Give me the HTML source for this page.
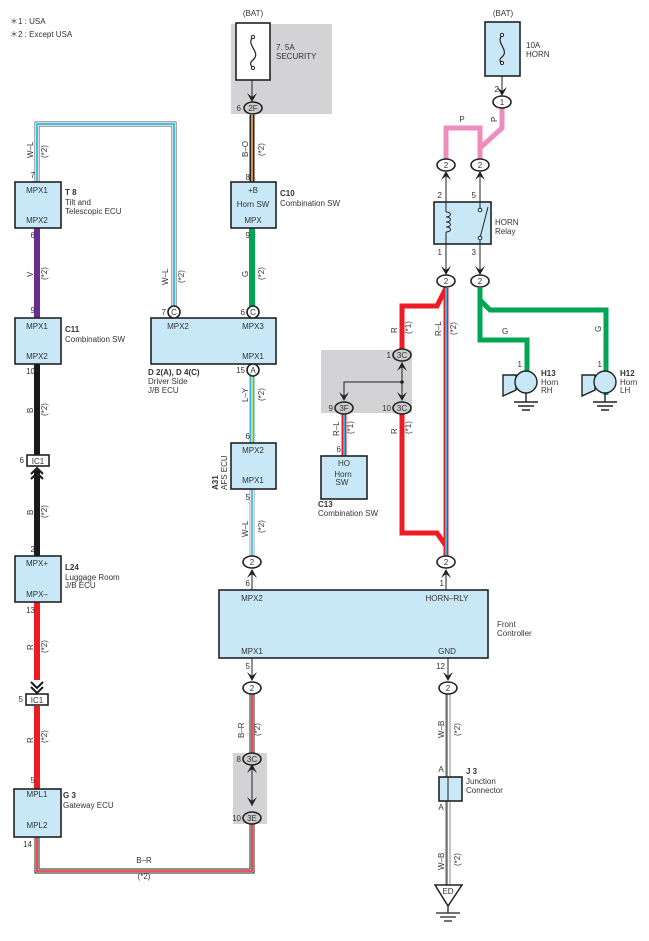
<!DOCTYPE html>
<html><head><meta charset="utf-8"><style>
html,body{margin:0;padding:0;background:#fff}
svg text{font-family:"Liberation Sans",sans-serif;font-size:8px;fill:#333}
.b{font-weight:bold}
</style></head><body>
<svg width="649" height="936" viewBox="0 0 649 936" xmlns="http://www.w3.org/2000/svg">
<defs>
<g id="ad"><polygon points="-5,-9 0,-5 5,-9 0,0" fill="#222"/></g>
<g id="au"><polygon points="-5,9 0,5 5,9 0,0" fill="#222"/></g>
</defs>
<text x="10" y="24">＊1 : USA</text>
<text x="10" y="37">＊2 : Except USA</text>

<rect x="231" y="24" width="101" height="90" fill="#d3d3d5"/>
<rect x="321" y="350" width="91" height="63" fill="#d3d3d5"/>
<rect x="233" y="753" width="34" height="71" fill="#d3d3d5"/>

<path d="M37,182 V124 H174 V306" fill="none" stroke="#555" stroke-width="5"/>
<path d="M37,182 V124 H174 V306" fill="none" stroke="#fff" stroke-width="3.6"/>
<path d="M37,182 V124 H174 V306" fill="none" stroke="#29b6e8" stroke-width="1.8"/>
<line x1="252" y1="115" x2="252" y2="182" stroke="#222" stroke-width="5"/>
<line x1="252" y1="115" x2="252" y2="182" stroke="#f5a040" stroke-width="1.8"/>
<line x1="252" y1="68" x2="252" y2="98" stroke="#222" stroke-width="1"/>
<use href="#ad" x="252" y="102"/>
<line x1="252" y1="228" x2="252" y2="306" stroke="#00a651" stroke-width="6"/>
<line x1="37" y1="228" x2="37" y2="318" stroke="#6a2c91" stroke-width="6"/>
<line x1="37" y1="364" x2="37" y2="455" stroke="#1a1a1a" stroke-width="6"/>
<line x1="37" y1="470" x2="37" y2="556" stroke="#1a1a1a" stroke-width="6"/>
<path d="M31,474 L37,468 L43,474 M31,479 L37,473 L43,479" fill="none" stroke="#1a1a1a" stroke-width="2"/>
<line x1="37" y1="602" x2="37" y2="680" stroke="#ed1c24" stroke-width="6"/>
<line x1="37" y1="706" x2="37" y2="789" stroke="#ed1c24" stroke-width="6"/>
<path d="M31,682 L37,688 L43,682 M31,687 L37,693 L43,687" fill="none" stroke="#1a1a1a" stroke-width="2"/>
<path d="M37,837 V871 H252 V818" fill="none" stroke="#222" stroke-width="5"/>
<path d="M37,837 V871 H252 V818" fill="none" stroke="#fff" stroke-width="3"/>
<path d="M37,837 V871 H252 V818" fill="none" stroke="#ed1c24" stroke-width="1.6"/>
<line x1="252" y1="694" x2="252" y2="753" stroke="#222" stroke-width="5"/>
<line x1="252" y1="694" x2="252" y2="753" stroke="#fff" stroke-width="3"/>
<line x1="252" y1="694" x2="252" y2="753" stroke="#ed1c24" stroke-width="1.6"/>
<line x1="252" y1="764" x2="252" y2="806" stroke="#222" stroke-width="1"/>
<use href="#au" x="252" y="764"/><use href="#ad" x="252" y="806"/>
<line x1="252" y1="376" x2="252" y2="443" stroke="#29b6e8" stroke-width="5"/>
<line x1="252" y1="376" x2="252" y2="443" stroke="#fde34a" stroke-width="1.6"/>
<line x1="252" y1="489" x2="252" y2="556" stroke="#999" stroke-width="5"/>
<line x1="252" y1="489" x2="252" y2="556" stroke="#fff" stroke-width="3.4"/>
<line x1="252" y1="489" x2="252" y2="556" stroke="#29b6e8" stroke-width="1.6"/>
<line x1="252" y1="570" x2="252" y2="590" stroke="#222" stroke-width="1"/>
<use href="#au" x="252" y="569"/>
<line x1="252" y1="658" x2="252" y2="680" stroke="#222" stroke-width="1"/>
<use href="#ad" x="252" y="681"/>
<line x1="502" y1="64" x2="502" y2="92" stroke="#222" stroke-width="1"/>
<use href="#ad" x="502" y="96"/>
<path d="M502,108 V128 L480,148 V160" fill="none" stroke="#f08cbc" stroke-width="5"/>
<path d="M480,148 V128 H446 V160" fill="none" stroke="#f08cbc" stroke-width="5"/>
<line x1="446" y1="172" x2="446" y2="274" stroke="#222" stroke-width="1"/>
<line x1="480" y1="172" x2="480" y2="274" stroke="#222" stroke-width="1"/>
<use href="#au" x="446" y="171"/><use href="#au" x="480" y="171"/>
<use href="#ad" x="446" y="275"/><use href="#ad" x="480" y="275"/>
<path d="M480,288 V300 L490,310 H606 V395" fill="none" stroke="#00a651" stroke-width="5"/>
<path d="M480,300 V340 H527 V378" fill="none" stroke="#00a651" stroke-width="5"/>
<path d="M446,288 L437,306 H402 V349" fill="none" stroke="#ed1c24" stroke-width="5"/>
<path d="M402,414 V533 H437 L446,546" fill="none" stroke="#ed1c24" stroke-width="5"/>
<line x1="446" y1="288" x2="446" y2="556" stroke="#ed1c24" stroke-width="5"/>
<line x1="446" y1="288" x2="446" y2="556" stroke="#29b6e8" stroke-width="2"/>
<line x1="446" y1="570" x2="446" y2="590" stroke="#222" stroke-width="1"/>
<use href="#au" x="446" y="569"/>
<line x1="402" y1="362" x2="402" y2="400" stroke="#222" stroke-width="1"/>
<path d="M402,382 H344 V400" fill="none" stroke="#222" stroke-width="1"/>
<circle cx="402" cy="382" r="1.8" fill="#222"/>
<use href="#au" x="402" y="362"/><use href="#ad" x="402" y="401"/><use href="#ad" x="344" y="401"/>
<line x1="344" y1="414" x2="344" y2="456" stroke="#ed1c24" stroke-width="5"/>
<line x1="344" y1="414" x2="344" y2="456" stroke="#29b6e8" stroke-width="2"/>
<line x1="448" y1="658" x2="448" y2="680" stroke="#222" stroke-width="1"/>
<use href="#ad" x="448" y="681"/>
<line x1="448" y1="694" x2="448" y2="895" stroke="#666" stroke-width="5"/>
<line x1="448" y1="694" x2="448" y2="895" stroke="#fff" stroke-width="3.4"/>
<line x1="450" y1="694" x2="450" y2="895" stroke="#aaa" stroke-width="1.4"/>
<line x1="447" y1="694" x2="447" y2="895" stroke="#333" stroke-width="1"/>

<g fill="#c8e8f8" stroke="#222" stroke-width="1.6">
<rect x="236" y="23" width="34" height="57" fill="#fff"/>
<rect x="485" y="22" width="35" height="54"/>
<rect x="15" y="182" width="46" height="46"/>
<rect x="231" y="182" width="45" height="46"/>
<rect x="15" y="318" width="46" height="46"/>
<rect x="151" y="318" width="125" height="46"/>
<rect x="231" y="443" width="45" height="46"/>
<rect x="15" y="556" width="46" height="46"/>
<rect x="14" y="789" width="47" height="48"/>
<rect x="219" y="590" width="269" height="68"/>
<rect x="434" y="202" width="57" height="42"/>
<rect x="321" y="456" width="46" height="43"/>
<rect x="439" y="777" width="23" height="24"/>
</g>
<line x1="448" y1="777" x2="448" y2="801" stroke="#222" stroke-width="1"/>
<path d="M253,37 C245,45 262,52 253,60 C248,64 252,66 253,68" fill="none" stroke="#222" stroke-width="1.2"/>
<circle cx="253" cy="37" r="1.6" fill="#fff" stroke="#222"/><circle cx="253" cy="68" r="1.6" fill="#fff" stroke="#222"/>
<path d="M502,35 C495,43 510,50 502,57 C498,60 501,62 502,63" fill="none" stroke="#222" stroke-width="1.2"/>
<circle cx="502" cy="35" r="1.6" fill="#fff" stroke="#222"/><circle cx="502" cy="63" r="1.6" fill="#fff" stroke="#222"/>
<path d="M446,202 V212 M446,232 V244" stroke="#222" stroke-width="1"/>
<path d="M446,212 c6,0 6,5 0,5 c6,0 6,5 0,5 c6,0 6,5 0,5 c6,0 6,5 0,5" fill="none" stroke="#222" stroke-width="1"/>
<path d="M480,202 V210 M480,238 V244 M480,238 L488,207" stroke="#222" stroke-width="1"/>
<circle cx="480" cy="210" r="1.8" fill="#fff" stroke="#222"/><circle cx="480" cy="238" r="1.8" fill="#fff" stroke="#222"/>

<g stroke="#222" stroke-width="1.4">
<polygon points="503,375 516,375 516,390 503,396" fill="#c8e8f8"/>
<circle cx="526" cy="382" r="11" fill="#c8e8f8"/>
<polygon points="582,375 595,375 595,390 582,396" fill="#c8e8f8"/>
<circle cx="605" cy="382" r="11" fill="#c8e8f8"/>
<path d="M526,393 V402 M514,402 H538 M518,406 H534 M522,410 H530 M605,393 V402 M593,402 H617 M597,406 H613 M601,410 H609" fill="none"/>
</g>
<polygon points="435,885 462,885 448,906" fill="#fff" stroke="#222" stroke-width="1.5"/>
<path d="M448,906 V913 M436,913 H460 M440,917 H456 M444,921 H452" stroke="#222" stroke-width="1.3" fill="none"/>
<text x="448" y="894" text-anchor="middle">ED</text>

<g stroke="#222" stroke-width="1.6" fill="#fff">
<ellipse cx="253" cy="108" rx="9" ry="6" fill="#ccc"/>
<ellipse cx="502" cy="102" rx="9" ry="6"/>
<ellipse cx="446" cy="165" rx="9" ry="6"/>
<ellipse cx="480" cy="165" rx="9" ry="6"/>
<ellipse cx="446" cy="281" rx="9" ry="6"/>
<ellipse cx="480" cy="281" rx="9" ry="6"/>
<ellipse cx="402" cy="355" rx="9" ry="6" fill="#ccc"/>
<ellipse cx="344" cy="408" rx="9" ry="6" fill="#ccc"/>
<ellipse cx="402" cy="408" rx="9" ry="6" fill="#ccc"/>
<ellipse cx="446" cy="562" rx="9" ry="6"/>
<ellipse cx="252" cy="562" rx="9" ry="6"/>
<ellipse cx="252" cy="688" rx="9" ry="6"/>
<ellipse cx="448" cy="688" rx="9" ry="6"/>
<ellipse cx="252" cy="759" rx="9" ry="6" fill="#ccc"/>
<ellipse cx="252" cy="818" rx="9" ry="6" fill="#ccc"/>
<circle cx="174" cy="312" r="6"/>
<circle cx="253" cy="312" r="6"/>
<circle cx="253" cy="370" r="6"/>
<rect x="27" y="455" width="22" height="11"/>
<rect x="26" y="694" width="22" height="11"/>
</g>
<g text-anchor="middle">
<text x="253" y="111">2F</text><text x="502" y="105">1</text>
<text x="446" y="168">2</text><text x="480" y="168">2</text>
<text x="446" y="284">2</text><text x="480" y="284">2</text>
<text x="402" y="358">3C</text><text x="344" y="411">3F</text><text x="402" y="411">3C</text>
<text x="446" y="565">2</text><text x="252" y="565">2</text>
<text x="252" y="691">2</text><text x="448" y="691">2</text>
<text x="252" y="762">3C</text><text x="252" y="821">3E</text>
<text x="174" y="315">C</text><text x="253" y="315">C</text><text x="253" y="373">A</text>
<text x="38" y="464">IC1</text><text x="37" y="703">IC1</text>
<text x="253" y="16">(BAT)</text><text x="503" y="16">(BAT)</text>
<text x="37" y="193">MPX1</text><text x="37" y="223">MPX2</text>
<text x="253" y="193">+B</text><text x="253" y="207">Horn SW</text><text x="253" y="223">MPX</text>
<text x="37" y="329">MPX1</text><text x="37" y="359">MPX2</text>
<text x="178" y="329">MPX2</text><text x="253" y="329">MPX3</text><text x="253" y="359">MPX1</text>
<text x="253" y="453">MPX2</text><text x="253" y="483">MPX1</text>
<text x="37" y="566">MPX+</text><text x="37" y="597">MPX–</text>
<text x="37" y="797">MPL1</text><text x="37" y="828">MPL2</text>
<text x="252" y="601">MPX2</text><text x="447" y="601">HORN–RLY</text>
<text x="252" y="654">MPX1</text><text x="447" y="654">GND</text>
<text x="344" y="466">HO</text><text x="343" y="477">Horn</text><text x="342" y="485">SW</text>
</g>
<text x="276" y="50">7. 5A</text><text x="276" y="59">SECURITY</text>
<text x="526" y="48">10A</text><text x="526" y="57">HORN</text>
<text x="65" y="195" class="b">T 8</text><text x="65" y="205">Tilt and</text><text x="65" y="214">Telescopic ECU</text>
<text x="280" y="196" class="b">C10</text><text x="280" y="206">Combination SW</text>
<text x="65" y="332" class="b">C11</text><text x="65" y="342">Combination SW</text>
<text x="148" y="375" class="b">D 2(A), D 4(C)</text><text x="148" y="384">Driver Side</text><text x="148" y="393">J/B ECU</text>
<text x="65" y="570" class="b">L24</text><text x="65" y="580">Luggage Room</text><text x="65" y="588">J/B ECU</text>
<text x="63" y="798" class="b">G 3</text><text x="63" y="808">Gateway ECU</text>
<text x="495" y="225">HORN</text><text x="495" y="234">Relay</text>
<text x="541" y="376" class="b">H13</text><text x="541" y="385">Horn</text><text x="541" y="393">RH</text>
<text x="620" y="376" class="b">H12</text><text x="620" y="385">Horn</text><text x="620" y="393">LH</text>
<text x="318" y="507" class="b">C13</text><text x="318" y="516">Combination SW</text>
<text x="497" y="627">Front</text><text x="497" y="636">Controller</text>
<text x="466" y="774" class="b">J 3</text><text x="466" y="784">Junction</text><text x="466" y="793">Connector</text>
<text x="441" y="772" text-anchor="middle">A</text><text x="441" y="810" text-anchor="middle">A</text>
<text x="144" y="863" text-anchor="middle">B–R</text><text x="144" y="879" text-anchor="middle">(*2)</text>
<text x="462" y="122" text-anchor="middle">P</text>
<text x="502" y="334">G</text>
<text transform="translate(218,490) rotate(-90)" class="b">A31</text>
<text transform="translate(227,490) rotate(-90)">AFS ECU</text>
<g text-anchor="end">
<text x="241" y="111">6</text><text x="250" y="180">8</text><text x="250" y="238">9</text>
<text x="35" y="178">7</text><text x="35" y="238">6</text><text x="35" y="313">9</text>
<text x="35" y="374">10</text><text x="24" y="463">6</text><text x="35" y="552">2</text>
<text x="35" y="613">13</text><text x="23" y="702">5</text><text x="35" y="783">5</text><text x="32" y="847">14</text>
<text x="166" y="315">7</text><text x="245" y="315">6</text><text x="245" y="373">15</text>
<text x="250" y="439">6</text><text x="250" y="500">5</text><text x="250" y="586">6</text><text x="250" y="669">5</text>
<text x="241" y="762">8</text><text x="241" y="821">10</text>
<text x="444" y="586">1</text><text x="445" y="669">12</text>
<text x="499" y="92">2</text>
<text x="442" y="198">2</text><text x="476" y="198">5</text><text x="442" y="255">1</text><text x="476" y="255">3</text>
<text x="391" y="358">1</text><text x="333" y="411">9</text><text x="391" y="411">10</text>
<text x="341" y="452">6</text><text x="522" y="367">1</text><text x="602" y="367">1</text>
</g>
<g>
<text transform="translate(33,158) rotate(-90)">W–L</text><text transform="translate(47,158) rotate(-90)">(*2)</text>
<text transform="translate(33,277) rotate(-90)">V</text><text transform="translate(47,280) rotate(-90)">(*2)</text>
<text transform="translate(168,285) rotate(-90)">W–L</text><text transform="translate(184,283) rotate(-90)">(*2)</text>
<text transform="translate(248,157) rotate(-90)">B–O</text><text transform="translate(264,156) rotate(-90)">(*2)</text>
<text transform="translate(248,277) rotate(-90)">G</text><text transform="translate(264,280) rotate(-90)">(*2)</text>
<text transform="translate(33,413) rotate(-90)">B</text><text transform="translate(47,416) rotate(-90)">(*2)</text>
<text transform="translate(33,515) rotate(-90)">B</text><text transform="translate(47,518) rotate(-90)">(*2)</text>
<text transform="translate(33,650) rotate(-90)">R</text><text transform="translate(47,653) rotate(-90)">(*2)</text>
<text transform="translate(33,743) rotate(-90)">R</text><text transform="translate(47,743) rotate(-90)">(*2)</text>
<text transform="translate(248,402) rotate(-90)">L–Y</text><text transform="translate(264,401) rotate(-90)">(*2)</text>
<text transform="translate(248,537) rotate(-90)">W–L</text><text transform="translate(264,533) rotate(-90)">(*2)</text>
<text transform="translate(244,738) rotate(-90)">B–R</text><text transform="translate(260,736) rotate(-90)">(*2)</text>
<text transform="translate(444,738) rotate(-90)">W–B</text><text transform="translate(460,736) rotate(-90)">(*2)</text>
<text transform="translate(444,870) rotate(-90)">W–B</text><text transform="translate(460,866) rotate(-90)">(*2)</text>
<text transform="translate(397,333) rotate(-90)">R</text><text transform="translate(411,334) rotate(-90)">(*1)</text>
<text transform="translate(441,336) rotate(-90)">R–L</text><text transform="translate(456,335) rotate(-90)">(*2)</text>
<text transform="translate(397,434) rotate(-90)">R</text><text transform="translate(411,434) rotate(-90)">(*1)</text>
<text transform="translate(339,436) rotate(-90)">R–L</text><text transform="translate(353,434) rotate(-90)">(*1)</text>
<text transform="translate(497,122) rotate(-90)">P</text>
<text transform="translate(601,332) rotate(-90)">G</text>
</g>
</svg>
</body></html>
